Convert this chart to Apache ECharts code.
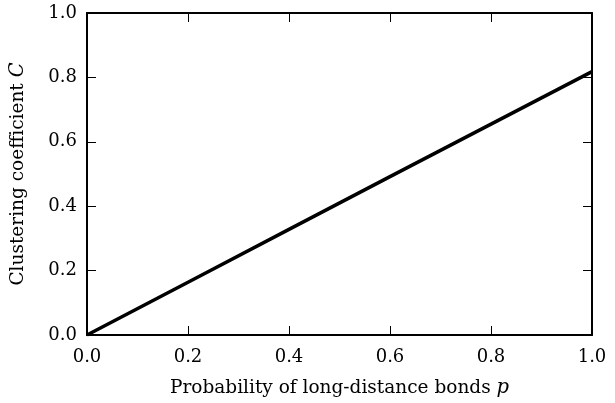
<!DOCTYPE html>
<html>
<head>
<meta charset="utf-8">
<script src="https://cdn.jsdelivr.net/npm/echarts@6/dist/echarts.min.js"></script>
<style>html,body{margin:0;padding:0;background:#fff}#c{width:615px;height:403px}</style>
</head>
<body>
<div id="c"></div>
<script>
const pValues = [0.0, 0.2, 0.4, 0.6, 0.8, 1.0];
const cValues = [0.0, 0.164, 0.328, 0.492, 0.655, 0.818];
const xTicks = ['0.0', '0.2', '0.4', '0.6', '0.8', '1.0'];
const yTicks = ['0.0', '0.2', '0.4', '0.6', '0.8', '1.0'];

const FONT = 'DejaVu Serif';
const chart = echarts.init(document.getElementById('c'), null, {renderer: 'canvas'});
const frameAxis = (pos, isX, showLabel) => ({
  type: 'value', position: pos, min: 0, max: 1, interval: 0.2,
  axisLine: {show: true, onZero: false, lineStyle: {color: '#000', width: 2}},
  axisTick: {show: true, inside: true, length: 9, lineStyle: {color: '#000', width: 1}},
  splitLine: {show: false},
  axisLabel: {show: showLabel, color: '#000', fontFamily: FONT, fontSize: 18, margin: isX ? 13 : 10,
    formatter: v => (isX ? xTicks : yTicks)[Math.round(v * 5)]}
});
const rich = {t: {fontFamily: FONT, fontSize: 18.5, color: '#000'}, i: {fontFamily: FONT, fontStyle: 'italic', fontSize: 19.5, color: '#000'}};
const xMain = frameAxis('bottom', true, true);
xMain.name = '{t|Probability of long-distance bonds }{i|p}';
xMain.nameLocation = 'middle';
xMain.nameGap = 43;
xMain.nameTextStyle = {rich};
const yMain = frameAxis('left', false, true);
yMain.name = '{t|Clustering coefficient }{i|C}';
yMain.nameLocation = 'middle';
yMain.nameGap = 59;
yMain.nameTextStyle = {rich};

chart.setOption({
  animation: false,
  backgroundColor: '#fff',
  grid: {left: 87, right: 23, top: 13, bottom: 68, containLabel: false, outerBoundsMode: 'none'},
  xAxis: [xMain, frameAxis('top', true, false)],
  yAxis: [yMain, frameAxis('right', false, false)],
  series: [{
    type: 'line', xAxisIndex: 0, yAxisIndex: 0,
    data: pValues.map((p, i) => [p, cValues[i]]),
    showSymbol: false, symbol: 'none',
    lineStyle: {color: '#000', width: 3.5}
  }]
});
</script>
</body>
</html>
